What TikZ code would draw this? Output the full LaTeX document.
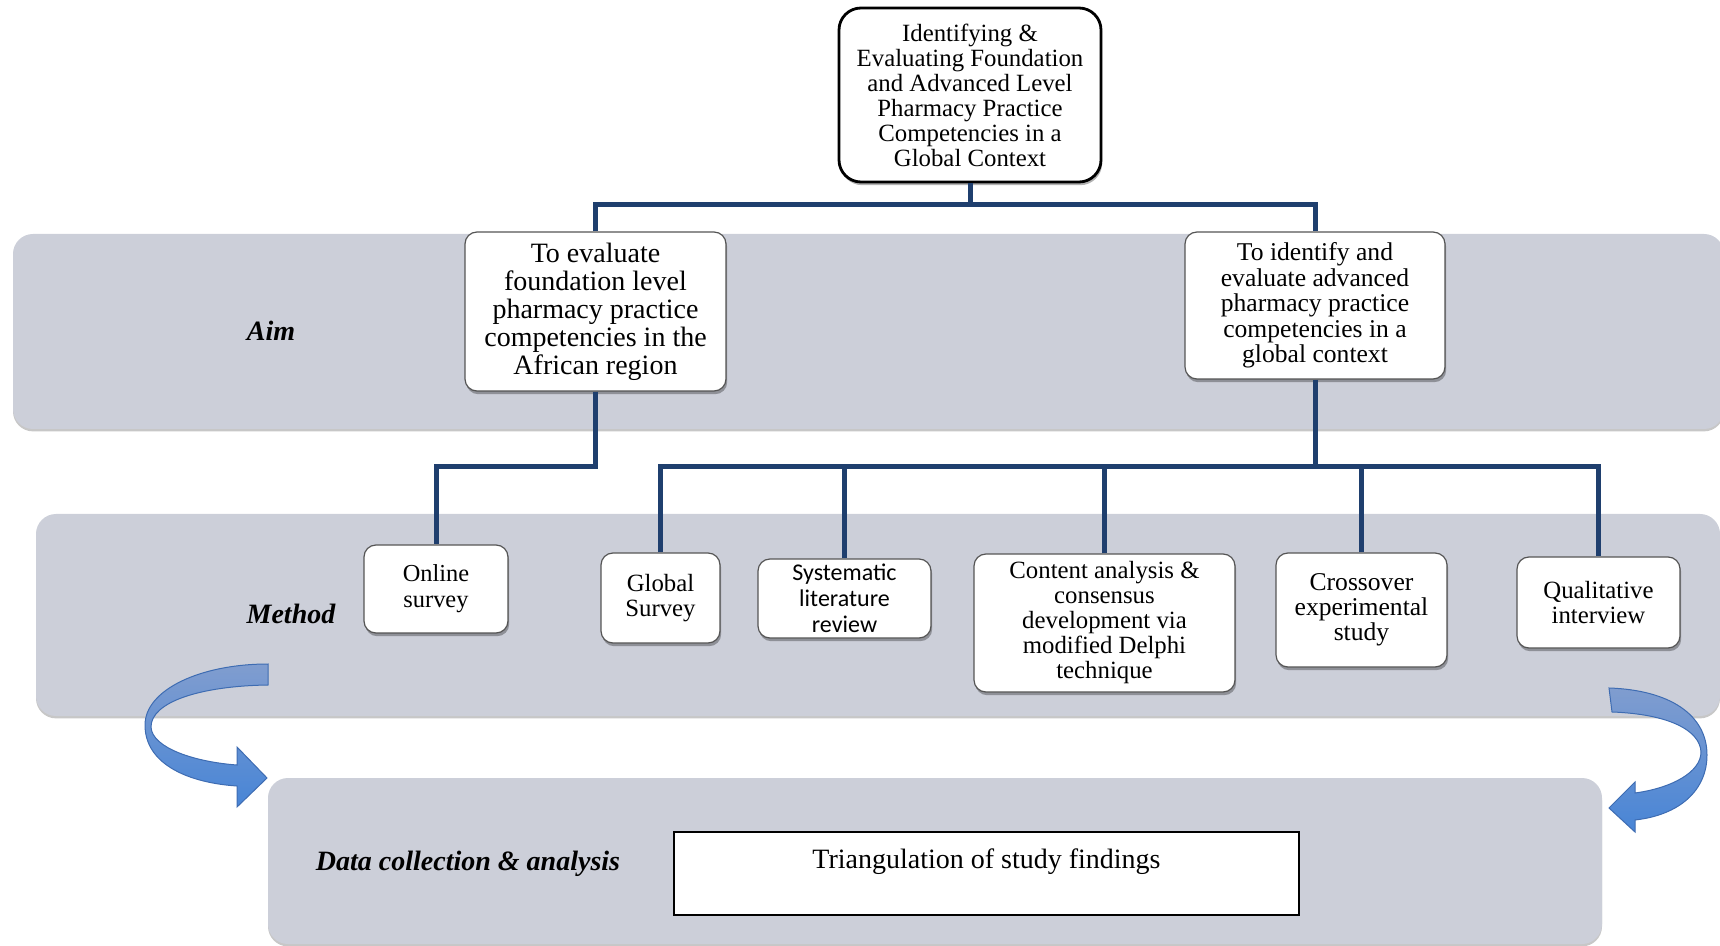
\documentclass[tikz,border=0pt]{standalone}
\usepackage{fontspec}
\setmainfont{Liberation Serif}
\newfontfamily\sansbox{Carlito}
\usetikzlibrary{shadows}

\definecolor{bandgray}{RGB}{204,207,217}
\definecolor{navy}{RGB}{31,63,110}
\definecolor{boxline}{RGB}{85,85,85}
\definecolor{arrowback}{RGB}{128,157,207}
\definecolor{arrowfront}{RGB}{72,133,214}
\definecolor{arrowedge}{RGB}{62,108,178}

\begin{document}
\begin{tikzpicture}[x=0.5pt,y=-0.5pt,
  band/.style={fill=bandgray, rounded corners=10pt,
    drop shadow={shadow xshift=0pt, shadow yshift=-1.2pt, fill=black, opacity=0.22}},
  box/.style={draw=boxline, line width=0.6pt, fill=white, rounded corners=6pt,
    align=center, inner sep=0pt,
    drop shadow={shadow xshift=0.6pt, shadow yshift=-1.6pt, fill=black, opacity=0.3},
    font=\fontsize{12.4}{12.5}\selectfont},
  topbox/.style={box, draw=black, line width=1.4pt, rounded corners=11pt},
  conn/.style={draw=navy, line width=2.5pt},
  lab/.style={font=\fontsize{14}{14}\selectfont\bfseries\itshape},
  curvearrow/.style={draw=arrowedge, line width=0.5pt, top color=arrowback, bottom color=arrowfront}
]
\useasboundingbox (0,0) rectangle (1720,946);

% background bands
\path[band] (13,234) rectangle (1724,429);
\path[band] (36,514) rectangle (1720,716);
\path[band] (268,778) rectangle (1602,944);

% band labels
\node[lab] (aimlab) at (271,331) {Aim};
\node[lab] (methodlab) at (291,614) {Method};
\node[lab] (datalab) at (468,864) {Data collection \& analysis};

% boxes
\node[topbox, minimum width=131pt, minimum height=87pt] (top) at (970,95)
  {Identifying \&\\Evaluating Foundation\\and Advanced Level\\Pharmacy Practice\\Competencies in a\\Global Context};

\node[box, minimum width=130.5pt, minimum height=79.5pt, font=\fontsize{14}{14}\selectfont] (aim1) at (595.5,311.5)
  {To evaluate\\foundation level\\pharmacy practice\\competencies in the\\African region};
\node[box, minimum width=130pt, minimum height=73.5pt, font=\fontsize{12.8}{12.8}\selectfont] (aim2) at (1315,305.5)
  {To identify and\\evaluate advanced\\pharmacy practice\\competencies in a\\global context};

\node[box, minimum width=72pt, minimum height=44pt, font=\fontsize{12.2}{13}\selectfont] (online) at (436,589) {Online\\survey};
\node[box, minimum width=59.5pt, minimum height=45pt] (global) at (660.5,598) {Global\\Survey};
\node[box, minimum width=86.5pt, minimum height=39.5pt, font=\sansbox\fontsize{12}{13}\selectfont] (syst) at (844.5,598.5) {Systematic\\literature\\review};
\node[box, minimum width=130.5pt, minimum height=69pt] (content) at (1104.5,623)
  {Content analysis \&\\consensus\\development via\\modified Delphi\\technique};
\node[box, minimum width=85.5pt, minimum height=57pt, font=\fontsize{12.8}{12.5}\selectfont] (cross) at (1361.5,610) {Crossover\\experimental\\study};
\node[box, minimum width=81.5pt, minimum height=45.5pt] (qual) at (1598.5,602.5) {Qualitative\\interview};

\node[draw=black, line width=0.8pt, fill=white, inner sep=0pt, minimum width=312.5pt, minimum height=41.5pt,
  text height=10pt, text depth=15.5pt, font=\fontsize{14}{14}\selectfont] (triang) at (986.5,873.5)
  {Triangulation of study findings};

% connectors
\draw[conn] (top.south) -- (top.south |- 0,205);
\draw[conn] (aim1.north) -- (aim1.north |- 0,205) -- (aim2.north |- 0,205) -- (aim2.north);
\draw[conn] (aim1.south) -- (aim1.south |- 0,467) -| (online.north);
\draw[conn] (aim2.south) -- (aim2.south |- 0,467);
\draw[conn] (global.north) -- (global.north |- 0,467) -- (qual.north |- 0,467) -- (qual.north);
\draw[conn] (syst.north) -- (syst.north |- 0,467);
\draw[conn] (content.north) -- (content.north |- 0,467);
\draw[conn] (cross.north) -- (cross.north |- 0,467);

% curved arrows into the analysis band
\path[curvearrow] (268,664) .. controls (200,664) and (145,690) .. (145,725)
  .. controls (145,765) and (190,783) .. (237,786) -- (237,807) -- (267,778) -- (237,747) -- (237,765)
  .. controls (195,762) and (152,748) .. (151,727) .. controls (151,702) and (200,686) .. (268,685) -- cycle;
\path[curvearrow] (1609,688) .. controls (1670,690) and (1707,715) .. (1707,755)
  .. controls (1707,790) and (1680,815) .. (1635,820) -- (1635,832) -- (1609,808) -- (1635,782) -- (1635,793)
  .. controls (1672,788) and (1701,772) .. (1701,752) .. controls (1700,730) and (1668,714) .. (1612,712) -- cycle;
\end{tikzpicture}
\end{document}
